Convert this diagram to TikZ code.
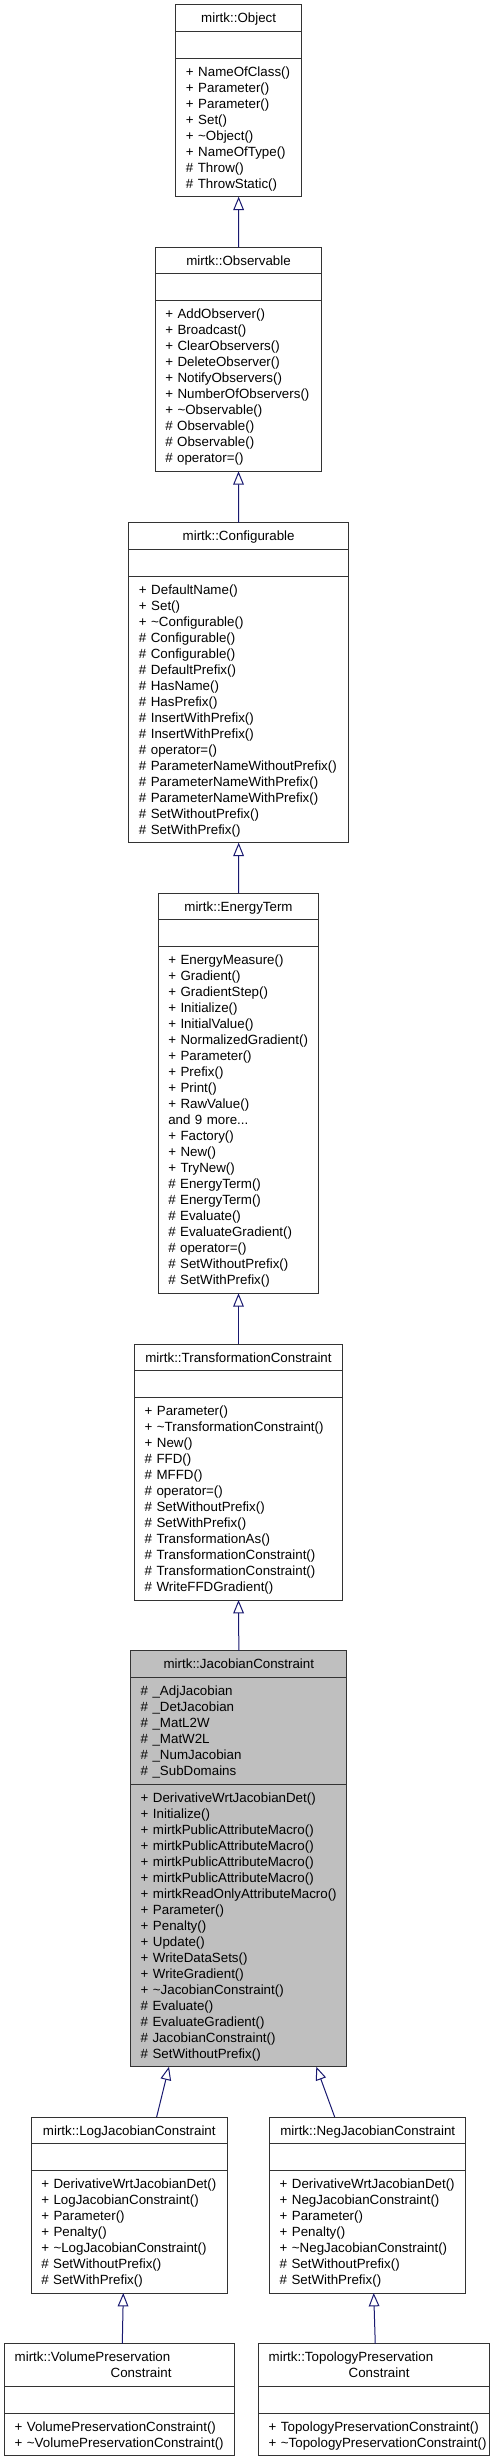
\documentclass[tikz,border=0pt]{standalone}
\usepackage{fontspec}
\setmainfont{Liberation Sans}
\usetikzlibrary{positioning,arrows.meta}
\definecolor{edgeblue}{HTML}{191970}
\definecolor{boxline}{HTML}{333333}
\definecolor{focusgray}{HTML}{BFBFBF}
\lineskiplimit=-\maxdimen
\newcommand{\tl}{\textasciitilde}

\begin{document}
\begin{tikzpicture}[x=0.75pt,y=-0.75pt,
    part/.style={draw=boxline, line width=0.75pt, outer sep=0pt,
      inner xsep=7.5pt, inner ysep=4pt, font=\fontsize{10}{12}\selectfont,
      align=left, text width=#1,
      execute at begin node={\rule{0pt}{9.5pt}},
      execute at end node={\rule[-2.5pt]{0pt}{2.5pt}}},
    title/.style={part=#1, align=center, anchor=north},
    inherit/.style={draw=edgeblue, line width=0.75pt,
      -{Triangle[open, length=10pt, width=8pt]}}]
    \useasboundingbox (0,0) rectangle (503,2464);

    % mirtk::Object
    \node[title=79pt] (objT) at (238.65,4.7) {mirtk::Object};
    \node[part=79pt, below=0pt of objT] (objA) {};
    \node[part=79pt, below=0pt of objA] (objM) {+~NameOfClass()\\ +~Parameter()\\ +~Parameter()\\ +~Set()\\
      +~\tl Object()\\ +~NameOfType()\\ \#~Throw()\\ \#~ThrowStatic()};

    % mirtk::Observable
    \node[title=109.8pt] (obsT) at (238.5,247.3) {mirtk::Observable};
    \node[part=109.8pt, below=0pt of obsT] (obsA) {};
    \node[part=109.8pt, below=0pt of obsA] (obsM) {+~AddObserver()\\ +~Broadcast()\\ +~ClearObservers()\\
      +~DeleteObserver()\\ +~NotifyObservers()\\ +~NumberOfObservers()\\ +~\tl Observable()\\
      \#~Observable()\\ \#~Observable()\\ \#~operator=()};

    % mirtk::Configurable
    \node[title=149.5pt] (cfgT) at (238.65,522.7) {mirtk::Configurable};
    \node[part=149.5pt, below=0pt of cfgT] (cfgA) {};
    \node[part=149.5pt, below=0pt of cfgA] (cfgM) {+~DefaultName()\\ +~Set()\\ +~\tl Configurable()\\
      \#~Configurable()\\ \#~Configurable()\\ \#~DefaultPrefix()\\ \#~HasName()\\ \#~HasPrefix()\\
      \#~InsertWithPrefix()\\ \#~InsertWithPrefix()\\ \#~operator=()\\ \#~ParameterNameWithoutPrefix()\\
      \#~ParameterNameWithPrefix()\\ \#~ParameterNameWithPrefix()\\ \#~SetWithoutPrefix()\\ \#~SetWithPrefix()};

    % mirtk::EnergyTerm
    \node[title=105.3pt] (etT) at (238.5,893.3) {mirtk::EnergyTerm};
    \node[part=105.3pt, below=0pt of etT] (etA) {};
    \node[part=105.3pt, below=0pt of etA] (etM) {+~EnergyMeasure()\\ +~Gradient()\\ +~GradientStep()\\
      +~Initialize()\\ +~InitialValue()\\ +~NormalizedGradient()\\ +~Parameter()\\ +~Prefix()\\
      +~Print()\\ +~RawValue()\\ and~9~more...\\ +~Factory()\\ +~New()\\ +~TryNew()\\
      \#~EnergyTerm()\\ \#~EnergyTerm()\\ \#~Evaluate()\\ \#~EvaluateGradient()\\ \#~operator=()\\
      \#~SetWithoutPrefix()\\ \#~SetWithPrefix()};

    % mirtk::TransformationConstraint
    \node[title=140.7pt] (tcT) at (238.5,1344) {mirtk::TransformationConstraint};
    \node[part=140.7pt, below=0pt of tcT] (tcA) {};
    \node[part=140.7pt, below=0pt of tcA] (tcM) {+~Parameter()\\ +~\tl TransformationConstraint()\\
      +~New()\\ \#~FFD()\\ \#~MFFD()\\ \#~operator=()\\ \#~SetWithoutPrefix()\\ \#~SetWithPrefix()\\
      \#~TransformationAs()\\ \#~TransformationConstraint()\\ \#~TransformationConstraint()\\
      \#~WriteFFDGradient()};

    % mirtk::JacobianConstraint
    \node[title=147.2pt, fill=focusgray] (jcT) at (238.85,1650.7) {mirtk::JacobianConstraint};
    \node[part=147.2pt, fill=focusgray, below=0pt of jcT] (jcA) {\#~\_AdjJacobian\\ \#~\_DetJacobian\\
      \#~\_MatL2W\\ \#~\_MatW2L\\ \#~\_NumJacobian\\ \#~\_SubDomains};
    \node[part=147.2pt, fill=focusgray, below=0pt of jcA] (jcM) {+~DerivativeWrtJacobianDet()\\
      +~Initialize()\\ +~mirtkPublicAttributeMacro()\\ +~mirtkPublicAttributeMacro()\\
      +~mirtkPublicAttributeMacro()\\ +~mirtkPublicAttributeMacro()\\ +~mirtkReadOnlyAttributeMacro()\\
      +~Parameter()\\ +~Penalty()\\ +~Update()\\ +~WriteDataSets()\\ +~WriteGradient()\\
      +~\tl JacobianConstraint()\\ \#~Evaluate()\\ \#~EvaluateGradient()\\ \#~JacobianConstraint()\\
      \#~SetWithoutPrefix()};

    % mirtk::LogJacobianConstraint
    \node[title=132pt] (logT) at (129.3,2117) {mirtk::LogJacobianConstraint};
    \node[part=132pt, below=0pt of logT] (logA) {};
    \node[part=132pt, below=0pt of logA] (logM) {+~DerivativeWrtJacobianDet()\\ +~LogJacobianConstraint()\\
      +~Parameter()\\ +~Penalty()\\ +~\tl LogJacobianConstraint()\\ \#~SetWithoutPrefix()\\ \#~SetWithPrefix()};

    % mirtk::NegJacobianConstraint
    \node[title=132pt] (negT) at (367.7,2117) {mirtk::NegJacobianConstraint};
    \node[part=132pt, below=0pt of negT] (negA) {};
    \node[part=132pt, below=0pt of negA] (negM) {+~DerivativeWrtJacobianDet()\\ +~NegJacobianConstraint()\\
      +~Parameter()\\ +~Penalty()\\ +~\tl NegJacobianConstraint()\\ \#~SetWithoutPrefix()\\ \#~SetWithPrefix()};

    % mirtk::VolumePreservationConstraint
    \node[title=157.5pt, align=left] (vpT) at (119.7,2343.7) {mirtk::VolumePreservation\\ \hspace*{72pt}Constraint};
    \node[part=157.5pt, below=0pt of vpT] (vpA) {};
    \node[part=157.5pt, below=0pt of vpA] (vpM) {+~VolumePreservationConstraint()\\
      +~\tl VolumePreservationConstraint()};

    % mirtk::TopologyPreservationConstraint
    \node[title=158.25pt, align=left] (tpT) at (374.2,2343.7) {mirtk::TopologyPreservation\\ \hspace*{60pt}Constraint};
    \node[part=158.25pt, below=0pt of tpT] (tpA) {};
    \node[part=158.25pt, below=0pt of tpA] (tpM) {+~TopologyPreservationConstraint()\\
      +~\tl TopologyPreservationConstraint()};

    % inheritance
    \draw[inherit] (obsT.north) -- (objM.south);
    \draw[inherit] (cfgT.north) -- (obsM.south);
    \draw[inherit] (etT.north) -- (cfgM.south);
    \draw[inherit] (tcT.north) -- (etM.south);
    \draw[inherit] (jcT.north) -- (tcM.south);
    \draw[inherit] ([xshift=20.5pt]logT.north) -- ([xshift=-52.4pt]jcM.south);
    \draw[inherit] ([xshift=-24.75pt]negT.north) -- ([xshift=58.1pt]jcM.south);
    \draw[inherit] ([xshift=1.95pt]vpT.north) -- ([xshift=-4.5pt]logM.south);
    \draw[inherit] ([xshift=0.8pt]tpT.north) -- ([xshift=4.5pt]negM.south);
\end{tikzpicture}
\end{document}
